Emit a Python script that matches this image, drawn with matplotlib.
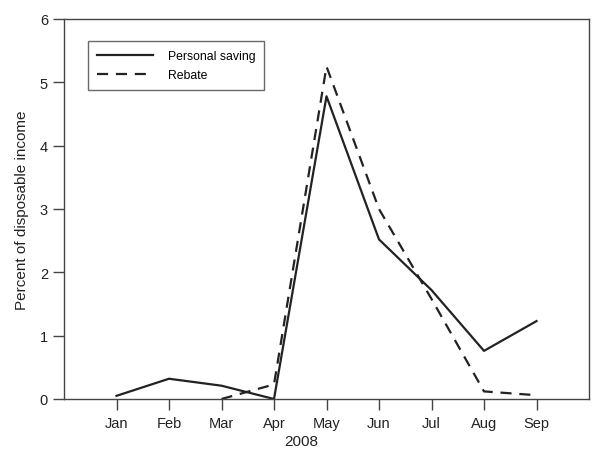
import numpy as np
import matplotlib.pyplot as plt

plt.rcParams['font.family'] = ['Liberation Sans', 'DejaVu Sans']

months = ["Jan", "Feb", "Mar", "Apr", "May", "Jun", "Jul", "Aug", "Sep"]
saving_x = [1, 2, 3, 4, 5, 6, 7, 8, 9]
saving = [0.05, 0.32, 0.21, 0.0, 4.78, 2.52, 1.72, 0.76, 1.23]
rebate_x = [3, 4, 5, 6, 7, 8, 9]
rebate = [0.0, 0.23, 5.25, 3.0, 1.58, 0.12, 0.06]

dark = "#222222"

fig = plt.figure(figsize=(6.01, 4.56), dpi=100)
ax = fig.add_axes([64 / 601, 56 / 456, 525 / 601, 380 / 456])

ax.plot(saving_x, saving, color=dark, linewidth=1.6, label="Personal saving")
ax.plot(rebate_x, rebate, color=dark, linewidth=1.6, linestyle=(0, (5, 3.5)), label="Rebate")

ax.set_xlim(0, 10)
ax.set_ylim(0, 6)
ax.set_xticks(saving_x)
ax.set_xticklabels(months)
ax.set_yticks(range(7))
ax.tick_params(direction="out", length=8, width=1, colors="#444444", labelcolor=dark, labelsize=10.5)
ax.tick_params(axis="x", pad=4)
for s in ax.spines.values():
    s.set_color("#444444")
    s.set_linewidth(1)

ax.set_xlabel("2008", fontsize=11, color=dark, labelpad=2)
ax.xaxis.set_label_coords(0.451, -0.092)
ax.set_ylabel("Percent of disposable income", fontsize=11, color=dark, labelpad=8)

leg = ax.legend(loc="upper left", bbox_to_anchor=(0.0457, 0.942), borderaxespad=0,
                fontsize=8.8, frameon=True, fancybox=False, edgecolor="#444444",
                handlelength=4.6, borderpad=0.72, labelspacing=0.6, handletextpad=1.2)
leg.get_frame().set_linewidth(1)

fig.savefig("out.png", dpi=100)
